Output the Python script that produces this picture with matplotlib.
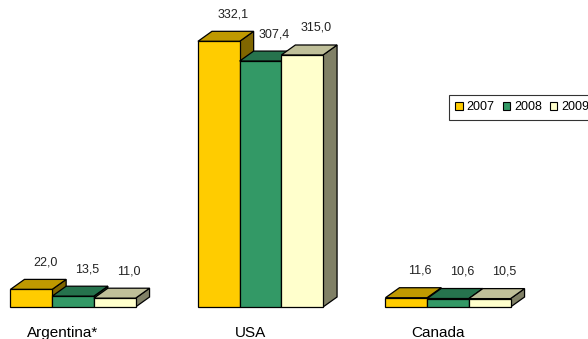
import numpy as np
import matplotlib.pyplot as plt
from matplotlib.patches import Polygon, Patch

plt.rcParams['font.family'] = ['Liberation Sans', 'DejaVu Sans']

# Werte je Land und Jahr
countries = ['Argentina*', 'USA', 'Canada']
years = ['2007', '2008', '2009']
values = {
    '2007': [22.0, 332.1, 11.6],
    '2008': [13.5, 307.4, 10.6],
    '2009': [11.0, 315.0, 10.5],
}

# Farben: Vorderseite, Oberseite, Seitenfläche
front_colors = ['#FFCC00', '#339966', '#FFFFCC']
top_colors = ['#BF9900', '#26734D', '#BFBF99']
side_colors = ['#806600', '#1A4D33', '#808066']

W, H = 588, 339
fig = plt.figure(figsize=(W / 100, H / 100), dpi=100)
ax = fig.add_axes([0, 0, 1, 1])

# Skalen: 187.5 px pro Gruppe, 0.8 px pro Einheit, Basislinie bei y=307 px
px_x = 187.5
px_y = 0.8
ax.set_xlim(-73 / px_x, (W - 73) / px_x)
ax.set_ylim(-(H - 307) / px_y, 307 / px_y)
ax.axis('off')

bar_w = 41.7 / px_x
depth_x = 14 / px_x
depth_y = 10 / px_y

z = 1
for i, country in enumerate(countries):
    for j, yr in enumerate(years):
        v = values[yr][i]
        x0 = i + (j - 1.5) * bar_w
        x1 = x0 + bar_w
        front = [(x0, 0), (x1, 0), (x1, v), (x0, v)]
        top = [(x0, v), (x1, v), (x1 + depth_x, v + depth_y), (x0 + depth_x, v + depth_y)]
        side = [(x1, 0), (x1 + depth_x, depth_y), (x1 + depth_x, v + depth_y), (x1, v)]
        for pts, col in ((side, side_colors[j]), (top, top_colors[j]), (front, front_colors[j])):
            ax.add_patch(Polygon(pts, closed=True, facecolor=col, edgecolor='black',
                                 linewidth=0.9, joinstyle='miter', zorder=z))
        z += 1
        label = f'{v:.1f}'.replace('.', ',')
        ax.text(x0 + bar_w / 2 + depth_x, v + depth_y + 17 / px_y, label,
                ha='center', va='center', fontsize=9, color='#222222', zorder=100)
    ax.text(i - 10 / px_x, -30 / px_y, country, ha='center', va='baseline',
            fontsize=11, color='black')

handles = [Patch(facecolor=front_colors[j], edgecolor='black', linewidth=0.8) for j in range(3)]
leg = fig.legend(handles, years, loc='upper left', bbox_to_anchor=(449 / W, 1 - 95 / H),
                 ncol=3, frameon=True, fancybox=False, fontsize=9,
                 handlelength=0.6, handleheight=0.6, handletextpad=0.3,
                 columnspacing=0.65, borderpad=0.5, borderaxespad=0)
leg.get_frame().set_edgecolor('black')
leg.get_frame().set_linewidth(0.8)

fig.savefig('out.png', dpi=100)
